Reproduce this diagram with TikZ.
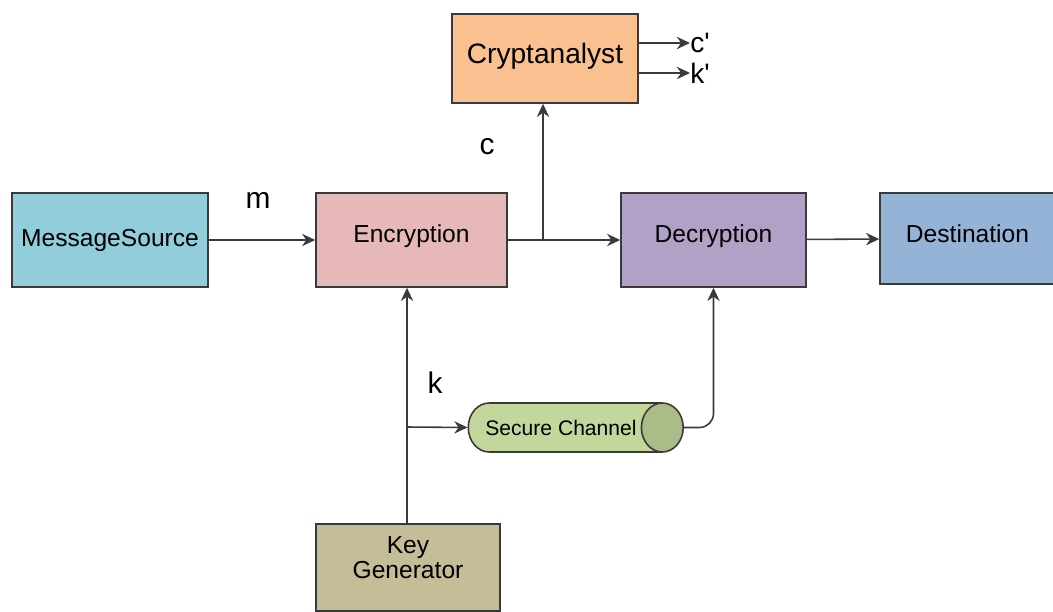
\documentclass[tikz,border=0pt]{standalone}
\usepackage{fontspec}
\setmainfont{Liberation Sans}
\usepackage{tikz}
\usetikzlibrary{positioning,arrows.meta,shapes.geometric,shadows}
\definecolor{SourceBlue}{HTML}{92CDDC}
\definecolor{EncPink}{HTML}{E6B9B8}
\definecolor{DecPurple}{HTML}{B2A1C7}
\definecolor{DestBlue}{HTML}{95B3D7}
\definecolor{CryptOrange}{HTML}{FAC08F}
\definecolor{KeyTan}{HTML}{C4BD97}
\definecolor{ChanGreen}{HTML}{C3D69B}
\definecolor{LineGray}{HTML}{3A3A3A}

\tikzset{
  blk/.style={draw=LineGray, line width=0.9pt, minimum height=1.88cm, inner sep=0pt,
    font=\fontsize{14}{17}\selectfont,
    drop shadow={shadow xshift=0.7pt, shadow yshift=-0.7pt, opacity=0.45}},
  arr/.style={draw=LineGray, line width=0.9pt, -{Stealth[length=7.5pt,width=7pt]}},
  lbl/.style={font=\fontsize{17}{19}\selectfont, inner sep=0pt}
}

\begin{document}
\begin{tikzpicture}[x=0.02cm, y=-0.02cm]
    \useasboundingbox (0,0) rectangle (1053,611);

    % main line of boxes
    \node[blk, fill=SourceBlue, minimum width=3.92cm] (src) at (110,240) {MessageSource};
    \node[blk, fill=EncPink, minimum width=3.82cm, text depth=0.24cm] (enc) at (411.5,240) {Encryption};
    \node[blk, fill=DecPurple, minimum width=3.7cm, text depth=0.24cm] (dec) at (713.5,240) {Decryption};
    \node[blk, fill=DestBlue, minimum width=3.5cm, minimum height=1.82cm, text depth=0.2cm] (dest) at (967.5,238.5) {Destination};
    \node[blk, fill=CryptOrange, minimum width=3.72cm, minimum height=1.78cm, text depth=0.22cm,
          font=\fontsize{16}{19}\selectfont] (crypt) at (545,58.5) {Cryptanalyst};
    \node[blk, fill=KeyTan, minimum width=3.68cm, minimum height=1.74cm, align=center,
          font=\fontsize{14}{14.2}\selectfont, text depth=0.38cm] (kg) at (408,567.5) {Key\\Generator};

    % the channel
    \node[cylinder, shape border rotate=0, aspect=2.2, draw=LineGray, line width=0.9pt,
          cylinder uses custom fill, cylinder body fill=ChanGreen, cylinder end fill=ChanGreen!88!black,
          minimum height=4.3cm, minimum width=0.98cm, inner sep=1pt,
          font=\fontsize{12}{14}\selectfont] (sc) at (561,427.5) {Secure Channel};

    % labels
    \node[lbl] (mlab) at (258,200) {m};
    \node[lbl] (clab) at (487,147) {c};
    \node[lbl] (klab) at (435,383) {k};
    \node[lbl, anchor=west, font=\fontsize{16}{18}\selectfont] (cout) at (690,43) {c\textquotesingle};
    \node[lbl, anchor=west, font=\fontsize{16}{18}\selectfont] (kout) at (690,73) {k\textquotesingle};

    % junctions
    \coordinate (cj) at (543,240);
    \coordinate (kj) at (407,427);

    \draw[arr] (src) -- (enc);
    \draw[arr] (enc) -- (dec);
    \draw[arr] (dec) -- (dest);
    \draw[arr] (cj) -- (cj |- crypt.south);
    \draw[arr] (crypt.east |- cout) -- (cout.west);
    \draw[arr] (crypt.east |- kout) -- (kout.west);
    \draw[arr] (kg.north -| kj) -- (kj |- enc.south);
    \draw[arr] (kj) -- (sc.west);
    \draw[arr, rounded corners=8pt] (sc.east) -| (dec.south);
\end{tikzpicture}
\end{document}
